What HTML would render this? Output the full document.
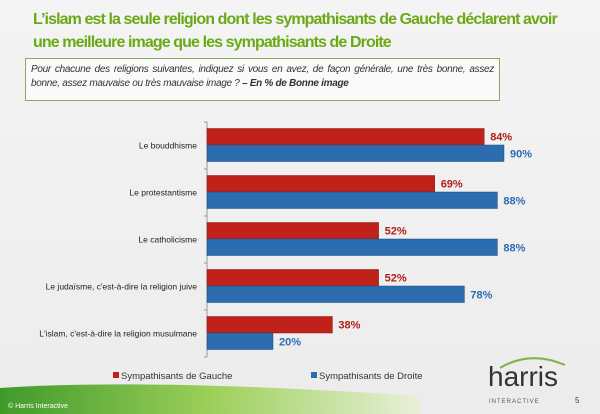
<!DOCTYPE html>
<html><head><meta charset="utf-8"><style>
body{margin:0;width:600px;height:414px;overflow:hidden;background:linear-gradient(#f4f4f4,#ececec);font-family:"Liberation Sans",sans-serif;position:relative}
.title{position:absolute;left:33px;top:8px;width:560px;color:#6aaa16;font-weight:bold;font-size:16px;line-height:23px;letter-spacing:-0.9px;white-space:nowrap}
.q{position:absolute;left:25px;top:58px;width:463px;height:33px;border:1.5px solid #8aa860;background:#fafafa;font-size:10px;font-style:italic;color:#333;padding:4px 5px;line-height:14px;text-align:justify;letter-spacing:-0.3px}
</style></head><body>
<div class="title">L’islam est la seule religion dont les sympathisants de Gauche déclarent avoir<br>une meilleure image que les sympathisants de Droite</div>
<div class="q">Pour chacune des religions suivantes, indiquez si vous en avez, de façon générale, une très bonne, assez bonne, assez mauvaise ou très mauvaise image ? <b>– En % de Bonne image</b></div>
<svg id="c" width="600" height="414" style="position:absolute;left:0;top:0">
<defs><linearGradient id="sw" x1="0" x2="1"><stop offset="0" stop-color="#3f9a2a"/><stop offset="0.5" stop-color="#9ccf5a"/><stop offset="1" stop-color="#e8f0d8"/></linearGradient></defs>
<path d="M0,388 Q150,378 420,396 L420,414 L0,414Z" fill="url(#sw)"/>
<text x="8" y="408" font-size="7" fill="#fff">© Harris Interactive</text>
<text x="488" y="386" font-size="28" fill="#333" font-family="Liberation Sans">harris</text>
<text x="489" y="403" font-size="6" fill="#555" letter-spacing="1">INTERACTIVE</text>
<path d="M500,368 Q530,350 565,365" stroke="#7ab648" stroke-width="2" fill="none"/>
<text x="575" y="403" font-size="8" fill="#444">5</text>
</svg>
<script>
const categories=["Le bouddhisme","Le protestantisme","Le catholicisme","Le judaïsme, c'est-à-dire la religion juive","L'islam, c'est-à-dire la religion musulmane"];
const gauche=[84,69,52,52,38];
const droite=[90,88,88,78,20];
const seriesNames=["Sympathisants de Gauche","Sympathisants de Droite"];
const svg=document.getElementById('c');const NS='http://www.w3.org/2000/svg';
const x0=207,sc=3.3,top0=122,gh=47;
const X=v=>x0+v*sc, Y=i=>top0+gh*i;
function mk(t,a,p){const e=document.createElementNS(NS,t);for(const k in a)e.setAttribute(k,a[k]);(p||svg).appendChild(e);return e;}
const ax=mk('line',{x1:x0,x2:x0,y1:top0,y2:Y(5),stroke:'#999'});


for(let i=0;i<=5;i++){const t=mk('line',{x1:x0-3,x2:x0,y1:Y(i),y2:Y(i),stroke:'#999'});

}
categories.forEach((c,i)=>{
 const cy=Y(i)+gh/2;
 const l=mk('text',{x:x0-10,y:cy+3,'text-anchor':'end','font-size':'8.5','fill':'#222'});l.textContent=c;
 
 
 const r=mk('rect',{x:x0,y:cy-17,width:X(gauche[i])-x0,height:16.5,fill:'#c0211b',stroke:'#8a1a14','stroke-width':0.5});
 
 
 const b=mk('rect',{x:x0,y:cy-0.5,width:X(droite[i])-x0,height:16.5,fill:'#2c6db0',stroke:'#1d4d80','stroke-width':0.5});
 
 
 const t1=mk('text',{x:X(gauche[i])+6,y:cy-5,'font-size':'11','font-weight':'bold',fill:'#b01e18'});t1.textContent=gauche[i]+'%';
 
 
 const t2=mk('text',{x:X(droite[i])+6,y:cy+12,'font-size':'11','font-weight':'bold',fill:'#2c6db0'});t2.textContent=droite[i]+'%';
 
 
});
[[113,'#c0211b'],[311,'#2c6db0']].forEach((p,k)=>{
 const s=mk('rect',{x:p[0],y:372,width:6,height:6,fill:p[1]});
 
 
 const t=mk('text',{x:p[0]+8,y:379,'font-size':'9.5',fill:'#333'});t.textContent=seriesNames[k];
 
 
});
</script>
</body></html>
